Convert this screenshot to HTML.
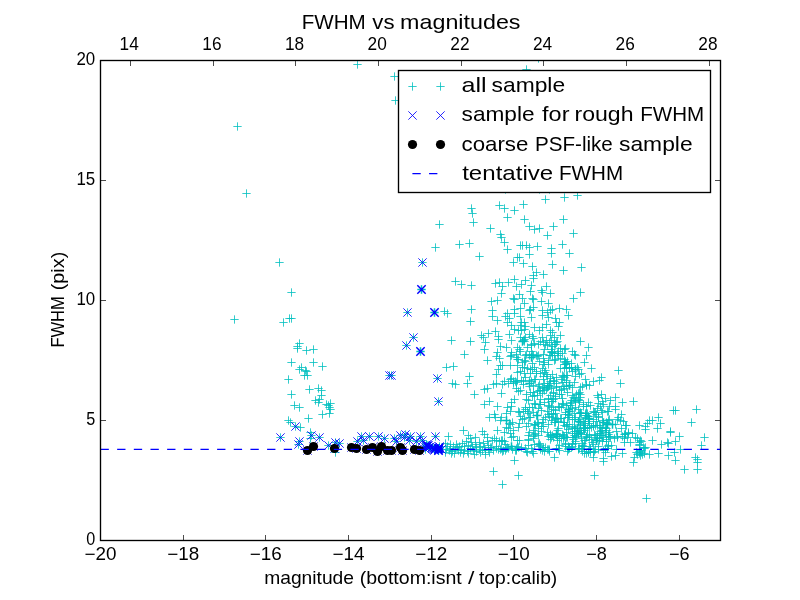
<!DOCTYPE html>
<html><head><meta charset="utf-8"><title>FWHM vs magnitudes</title>
<style>html,body{margin:0;padding:0;background:#fff;}svg{display:block;will-change:transform;}text{font-family:"Liberation Sans",sans-serif;fill:#000;}</style></head><body>
<svg width="800" height="600" viewBox="0 0 800 600">
<rect x="0" y="0" width="800" height="600" fill="#ffffff"/>
<defs>
<path id="p" d="M-4.17 0H4.17M0 -4.17V4.17" stroke="#00bfbf" stroke-width="0.8" fill="none"/>
<path id="x" d="M-4.17 -4.17L4.17 4.17M-4.17 4.17L4.17 -4.17" stroke="#0000ff" stroke-width="0.85" fill="none"/>
<path id="P" d="M-4.17 0H4.17M0 -4.17V4.17" stroke="#00bfbf" stroke-width="1.5" fill="none"/>
<path id="X" d="M-4.17 -4.17L4.17 4.17M-4.17 4.17L4.17 -4.17" stroke="#0000ff" stroke-width="1.45" fill="none"/>
<circle id="o" r="4.6" fill="#000"/>
<clipPath id="clip"><rect x="100" y="60" width="621" height="481"/></clipPath>
</defs>
<g clip-path="url(#clip)">
<g id="plus">
<use href="#p" x="237.5" y="126.5"/>
<use href="#p" x="357.5" y="64.5"/>
<use href="#p" x="246.5" y="193.5"/>
<use href="#p" x="279.5" y="262.5"/>
<use href="#p" x="291.5" y="292.5"/>
<use href="#p" x="234.5" y="319.5"/>
<use href="#p" x="283.5" y="322.5"/>
<use href="#p" x="289.5" y="318.5"/>
<use href="#p" x="291.5" y="318.5"/>
<use href="#p" x="299.5" y="343.5"/>
<use href="#p" x="297.5" y="346.5"/>
<use href="#p" x="297.5" y="348.5"/>
<use href="#p" x="306.5" y="350.5"/>
<use href="#p" x="313.5" y="349.5"/>
<use href="#p" x="291.5" y="362.5"/>
<use href="#p" x="313.5" y="362.5"/>
<use href="#p" x="322.5" y="366.5"/>
<use href="#p" x="299.5" y="369.5"/>
<use href="#p" x="301.5" y="367.5"/>
<use href="#p" x="305.5" y="370.5"/>
<use href="#p" x="306.5" y="371.5"/>
<use href="#p" x="304.5" y="375.5"/>
<use href="#p" x="307.5" y="375.5"/>
<use href="#p" x="288.5" y="379.5"/>
<use href="#p" x="309.5" y="389.5"/>
<use href="#p" x="318.5" y="388.5"/>
<use href="#p" x="321.5" y="390.5"/>
<use href="#p" x="291.5" y="394.5"/>
<use href="#p" x="321.5" y="395.5"/>
<use href="#p" x="319.5" y="399.5"/>
<use href="#p" x="315.5" y="400.5"/>
<use href="#p" x="318.5" y="402.5"/>
<use href="#p" x="294.5" y="405.5"/>
<use href="#p" x="299.5" y="407.5"/>
<use href="#p" x="326.5" y="404.5"/>
<use href="#p" x="328.5" y="405.5"/>
<use href="#p" x="330.5" y="403.5"/>
<use href="#p" x="329.5" y="407.5"/>
<use href="#p" x="330.5" y="409.5"/>
<use href="#p" x="322.5" y="414.5"/>
<use href="#p" x="329.5" y="413.5"/>
<use href="#p" x="308.5" y="418.5"/>
<use href="#p" x="288.5" y="420.5"/>
<use href="#p" x="290.5" y="422.5"/>
<use href="#p" x="300.5" y="427.5"/>
<use href="#p" x="295.5" y="426.5"/>
<use href="#p" x="280.5" y="437.5"/>
<use href="#p" x="299.5" y="441.5"/>
<use href="#p" x="298.5" y="444.5"/>
<use href="#p" x="311.5" y="435.5"/>
<use href="#p" x="319.5" y="437.5"/>
<use href="#p" x="328.5" y="445.5"/>
<use href="#p" x="335.5" y="442.5"/>
<use href="#p" x="339.5" y="443.5"/>
<use href="#p" x="307.5" y="450.5"/>
<use href="#p" x="313.5" y="446.5"/>
<use href="#p" x="334.5" y="448.5"/>
<use href="#p" x="310.5" y="432.5"/>
<use href="#p" x="310.5" y="438.5"/>
<use href="#p" x="335.5" y="452.5"/>
<use href="#p" x="351.5" y="447.5"/>
<use href="#p" x="356.5" y="448.5"/>
<use href="#p" x="366.5" y="449.5"/>
<use href="#p" x="372.5" y="447.5"/>
<use href="#p" x="377.5" y="451.5"/>
<use href="#p" x="381.5" y="446.5"/>
<use href="#p" x="387.5" y="450.5"/>
<use href="#p" x="391.5" y="450.5"/>
<use href="#p" x="400.5" y="447.5"/>
<use href="#p" x="402.5" y="450.5"/>
<use href="#p" x="414.5" y="449.5"/>
<use href="#p" x="419.5" y="450.5"/>
<use href="#p" x="361.5" y="436.5"/>
<use href="#p" x="369.5" y="436.5"/>
<use href="#p" x="378.5" y="436.5"/>
<use href="#p" x="384.5" y="438.5"/>
<use href="#p" x="394.5" y="438.5"/>
<use href="#p" x="400.5" y="435.5"/>
<use href="#p" x="405.5" y="434.5"/>
<use href="#p" x="410.5" y="436.5"/>
<use href="#p" x="357.5" y="441.5"/>
<use href="#p" x="363.5" y="440.5"/>
<use href="#p" x="416.5" y="441.5"/>
<use href="#p" x="404.5" y="437.5"/>
<use href="#p" x="396.5" y="441.5"/>
<use href="#p" x="409.5" y="440.5"/>
<use href="#p" x="420.5" y="436.5"/>
<use href="#p" x="435.5" y="436.5"/>
<use href="#p" x="422.5" y="440.5"/>
<use href="#p" x="426.5" y="444.5"/>
<use href="#p" x="435.5" y="448.5"/>
<use href="#p" x="427.5" y="445.5"/>
<use href="#p" x="439.5" y="447.5"/>
<use href="#p" x="425.5" y="447.5"/>
<use href="#p" x="433.5" y="448.5"/>
<use href="#p" x="430.5" y="446.5"/>
<use href="#p" x="426.5" y="446.5"/>
<use href="#p" x="428.5" y="445.5"/>
<use href="#p" x="428.5" y="447.5"/>
<use href="#p" x="434.5" y="448.5"/>
<use href="#p" x="432.5" y="447.5"/>
<use href="#p" x="439.5" y="448.5"/>
<use href="#p" x="441.5" y="449.5"/>
<use href="#p" x="439.5" y="446.5"/>
<use href="#p" x="426.5" y="445.5"/>
<use href="#p" x="438.5" y="449.5"/>
<use href="#p" x="434.5" y="449.5"/>
<use href="#p" x="434.5" y="450.5"/>
<use href="#p" x="425.5" y="449.5"/>
<use href="#p" x="448.5" y="436.5"/>
<use href="#p" x="463.5" y="430.5"/>
<use href="#p" x="482.5" y="431.5"/>
<use href="#p" x="468.5" y="435.5"/>
<use href="#p" x="475.5" y="437.5"/>
<use href="#p" x="487.5" y="437.5"/>
<use href="#p" x="470.5" y="438.5"/>
<use href="#p" x="484.5" y="434.5"/>
<use href="#p" x="445.5" y="443.5"/>
<use href="#p" x="450.5" y="444.5"/>
<use href="#p" x="453.5" y="446.5"/>
<use href="#p" x="457.5" y="447.5"/>
<use href="#p" x="462.5" y="443.5"/>
<use href="#p" x="466.5" y="441.5"/>
<use href="#p" x="471.5" y="442.5"/>
<use href="#p" x="475.5" y="444.5"/>
<use href="#p" x="479.5" y="442.5"/>
<use href="#p" x="483.5" y="443.5"/>
<use href="#p" x="487.5" y="441.5"/>
<use href="#p" x="446.5" y="449.5"/>
<use href="#p" x="449.5" y="450.5"/>
<use href="#p" x="452.5" y="451.5"/>
<use href="#p" x="455.5" y="449.5"/>
<use href="#p" x="458.5" y="450.5"/>
<use href="#p" x="461.5" y="449.5"/>
<use href="#p" x="464.5" y="450.5"/>
<use href="#p" x="467.5" y="451.5"/>
<use href="#p" x="470.5" y="448.5"/>
<use href="#p" x="473.5" y="450.5"/>
<use href="#p" x="476.5" y="451.5"/>
<use href="#p" x="479.5" y="449.5"/>
<use href="#p" x="482.5" y="450.5"/>
<use href="#p" x="485.5" y="450.5"/>
<use href="#p" x="488.5" y="449.5"/>
<use href="#p" x="445.5" y="452.5"/>
<use href="#p" x="451.5" y="453.5"/>
<use href="#p" x="454.5" y="453.5"/>
<use href="#p" x="460.5" y="452.5"/>
<use href="#p" x="463.5" y="453.5"/>
<use href="#p" x="468.5" y="453.5"/>
<use href="#p" x="474.5" y="454.5"/>
<use href="#p" x="480.5" y="452.5"/>
<use href="#p" x="485.5" y="454.5"/>
<use href="#p" x="489.5" y="452.5"/>
<use href="#p" x="447.5" y="446.5"/>
<use href="#p" x="450.5" y="448.5"/>
<use href="#p" x="456.5" y="444.5"/>
<use href="#p" x="459.5" y="446.5"/>
<use href="#p" x="464.5" y="446.5"/>
<use href="#p" x="468.5" y="445.5"/>
<use href="#p" x="472.5" y="446.5"/>
<use href="#p" x="476.5" y="447.5"/>
<use href="#p" x="480.5" y="446.5"/>
<use href="#p" x="484.5" y="447.5"/>
<use href="#p" x="488.5" y="445.5"/>
<use href="#p" x="471.5" y="208.5"/>
<use href="#p" x="472.5" y="213.5"/>
<use href="#p" x="473.5" y="222.5"/>
<use href="#p" x="439.5" y="224.5"/>
<use href="#p" x="435.5" y="247.5"/>
<use href="#p" x="459.5" y="244.5"/>
<use href="#p" x="469.5" y="243.5"/>
<use href="#p" x="479.5" y="256.5"/>
<use href="#p" x="455.5" y="281.5"/>
<use href="#p" x="461.5" y="284.5"/>
<use href="#p" x="471.5" y="285.5"/>
<use href="#p" x="422.5" y="262.5"/>
<use href="#p" x="407.5" y="312.5"/>
<use href="#p" x="413.5" y="337.5"/>
<use href="#p" x="406.5" y="345.5"/>
<use href="#p" x="444.5" y="311.5"/>
<use href="#p" x="447.5" y="313.5"/>
<use href="#p" x="471.5" y="309.5"/>
<use href="#p" x="470.5" y="321.5"/>
<use href="#p" x="451.5" y="340.5"/>
<use href="#p" x="470.5" y="341.5"/>
<use href="#p" x="481.5" y="335.5"/>
<use href="#p" x="483.5" y="337.5"/>
<use href="#p" x="485.5" y="342.5"/>
<use href="#p" x="488.5" y="333.5"/>
<use href="#p" x="484.5" y="349.5"/>
<use href="#p" x="464.5" y="354.5"/>
<use href="#p" x="487.5" y="360.5"/>
<use href="#p" x="446.5" y="367.5"/>
<use href="#p" x="453.5" y="366.5"/>
<use href="#p" x="389.5" y="375.5"/>
<use href="#p" x="391.5" y="375.5"/>
<use href="#p" x="437.5" y="378.5"/>
<use href="#p" x="438.5" y="401.5"/>
<use href="#p" x="469.5" y="376.5"/>
<use href="#p" x="452.5" y="383.5"/>
<use href="#p" x="455.5" y="384.5"/>
<use href="#p" x="467.5" y="383.5"/>
<use href="#p" x="474.5" y="394.5"/>
<use href="#p" x="484.5" y="389.5"/>
<use href="#p" x="487.5" y="388.5"/>
<use href="#p" x="484.5" y="404.5"/>
<use href="#p" x="489.5" y="401.5"/>
<use href="#p" x="489.5" y="417.5"/>
<use href="#p" x="545.5" y="199.5"/>
<use href="#p" x="499.5" y="205.5"/>
<use href="#p" x="504.5" y="208.5"/>
<use href="#p" x="514.5" y="210.5"/>
<use href="#p" x="523.5" y="204.5"/>
<use href="#p" x="507.5" y="217.5"/>
<use href="#p" x="524.5" y="219.5"/>
<use href="#p" x="490.5" y="228.5"/>
<use href="#p" x="529.5" y="226.5"/>
<use href="#p" x="534.5" y="229.5"/>
<use href="#p" x="539.5" y="228.5"/>
<use href="#p" x="500.5" y="234.5"/>
<use href="#p" x="501.5" y="237.5"/>
<use href="#p" x="504.5" y="242.5"/>
<use href="#p" x="547.5" y="235.5"/>
<use href="#p" x="520.5" y="245.5"/>
<use href="#p" x="522.5" y="245.5"/>
<use href="#p" x="526.5" y="245.5"/>
<use href="#p" x="529.5" y="247.5"/>
<use href="#p" x="537.5" y="246.5"/>
<use href="#p" x="507.5" y="249.5"/>
<use href="#p" x="529.5" y="254.5"/>
<use href="#p" x="517.5" y="257.5"/>
<use href="#p" x="519.5" y="257.5"/>
<use href="#p" x="513.5" y="262.5"/>
<use href="#p" x="523.5" y="263.5"/>
<use href="#p" x="532.5" y="266.5"/>
<use href="#p" x="536.5" y="272.5"/>
<use href="#p" x="543.5" y="274.5"/>
<use href="#p" x="533.5" y="275.5"/>
<use href="#p" x="564.5" y="197.5"/>
<use href="#p" x="577.5" y="195.5"/>
<use href="#p" x="563.5" y="219.5"/>
<use href="#p" x="553.5" y="226.5"/>
<use href="#p" x="573.5" y="233.5"/>
<use href="#p" x="562.5" y="244.5"/>
<use href="#p" x="551.5" y="248.5"/>
<use href="#p" x="551.5" y="253.5"/>
<use href="#p" x="569.5" y="253.5"/>
<use href="#p" x="552.5" y="264.5"/>
<use href="#p" x="563.5" y="270.5"/>
<use href="#p" x="581.5" y="267.5"/>
<use href="#p" x="495.5" y="283.5"/>
<use href="#p" x="499.5" y="282.5"/>
<use href="#p" x="508.5" y="282.5"/>
<use href="#p" x="514.5" y="279.5"/>
<use href="#p" x="525.5" y="280.5"/>
<use href="#p" x="521.5" y="284.5"/>
<use href="#p" x="516.5" y="286.5"/>
<use href="#p" x="531.5" y="285.5"/>
<use href="#p" x="533.5" y="278.5"/>
<use href="#p" x="546.5" y="286.5"/>
<use href="#p" x="502.5" y="286.5"/>
<use href="#p" x="501.5" y="293.5"/>
<use href="#p" x="530.5" y="291.5"/>
<use href="#p" x="519.5" y="294.5"/>
<use href="#p" x="541.5" y="290.5"/>
<use href="#p" x="542.5" y="292.5"/>
<use href="#p" x="550.5" y="293.5"/>
<use href="#p" x="497.5" y="300.5"/>
<use href="#p" x="513.5" y="298.5"/>
<use href="#p" x="514.5" y="299.5"/>
<use href="#p" x="522.5" y="298.5"/>
<use href="#p" x="532.5" y="298.5"/>
<use href="#p" x="533.5" y="299.5"/>
<use href="#p" x="541.5" y="301.5"/>
<use href="#p" x="548.5" y="303.5"/>
<use href="#p" x="491.5" y="301.5"/>
<use href="#p" x="524.5" y="303.5"/>
<use href="#p" x="492.5" y="310.5"/>
<use href="#p" x="514.5" y="309.5"/>
<use href="#p" x="520.5" y="308.5"/>
<use href="#p" x="530.5" y="309.5"/>
<use href="#p" x="533.5" y="307.5"/>
<use href="#p" x="529.5" y="310.5"/>
<use href="#p" x="542.5" y="310.5"/>
<use href="#p" x="550.5" y="310.5"/>
<use href="#p" x="552.5" y="309.5"/>
<use href="#p" x="559.5" y="308.5"/>
<use href="#p" x="566.5" y="309.5"/>
<use href="#p" x="547.5" y="312.5"/>
<use href="#p" x="507.5" y="313.5"/>
<use href="#p" x="514.5" y="313.5"/>
<use href="#p" x="505.5" y="316.5"/>
<use href="#p" x="509.5" y="318.5"/>
<use href="#p" x="492.5" y="316.5"/>
<use href="#p" x="497.5" y="320.5"/>
<use href="#p" x="520.5" y="316.5"/>
<use href="#p" x="531.5" y="317.5"/>
<use href="#p" x="542.5" y="315.5"/>
<use href="#p" x="548.5" y="317.5"/>
<use href="#p" x="555.5" y="318.5"/>
<use href="#p" x="568.5" y="315.5"/>
<use href="#p" x="556.5" y="322.5"/>
<use href="#p" x="559.5" y="322.5"/>
<use href="#p" x="507.5" y="322.5"/>
<use href="#p" x="511.5" y="325.5"/>
<use href="#p" x="521.5" y="322.5"/>
<use href="#p" x="524.5" y="322.5"/>
<use href="#p" x="520.5" y="325.5"/>
<use href="#p" x="525.5" y="326.5"/>
<use href="#p" x="534.5" y="327.5"/>
<use href="#p" x="539.5" y="330.5"/>
<use href="#p" x="542.5" y="327.5"/>
<use href="#p" x="546.5" y="324.5"/>
<use href="#p" x="558.5" y="326.5"/>
<use href="#p" x="550.5" y="330.5"/>
<use href="#p" x="495.5" y="331.5"/>
<use href="#p" x="498.5" y="336.5"/>
<use href="#p" x="509.5" y="334.5"/>
<use href="#p" x="514.5" y="329.5"/>
<use href="#p" x="518.5" y="330.5"/>
<use href="#p" x="521.5" y="330.5"/>
<use href="#p" x="524.5" y="329.5"/>
<use href="#p" x="529.5" y="334.5"/>
<use href="#p" x="520.5" y="337.5"/>
<use href="#p" x="525.5" y="337.5"/>
<use href="#p" x="532.5" y="336.5"/>
<use href="#p" x="552.5" y="332.5"/>
<use href="#p" x="550.5" y="335.5"/>
<use href="#p" x="560.5" y="335.5"/>
<use href="#p" x="542.5" y="337.5"/>
<use href="#p" x="554.5" y="337.5"/>
<use href="#p" x="580.5" y="292.5"/>
<use href="#p" x="573.5" y="298.5"/>
<use href="#p" x="633.5" y="401.5"/>
<use href="#p" x="673.5" y="410.5"/>
<use href="#p" x="675.5" y="410.5"/>
<use href="#p" x="696.5" y="409.5"/>
<use href="#p" x="691.5" y="422.5"/>
<use href="#p" x="658.5" y="417.5"/>
<use href="#p" x="649.5" y="420.5"/>
<use href="#p" x="652.5" y="420.5"/>
<use href="#p" x="647.5" y="423.5"/>
<use href="#p" x="660.5" y="423.5"/>
<use href="#p" x="639.5" y="425.5"/>
<use href="#p" x="645.5" y="426.5"/>
<use href="#p" x="645.5" y="429.5"/>
<use href="#p" x="657.5" y="428.5"/>
<use href="#p" x="670.5" y="431.5"/>
<use href="#p" x="670.5" y="432.5"/>
<use href="#p" x="679.5" y="436.5"/>
<use href="#p" x="704.5" y="437.5"/>
<use href="#p" x="632.5" y="433.5"/>
<use href="#p" x="635.5" y="437.5"/>
<use href="#p" x="514.5" y="460.5"/>
<use href="#p" x="493.5" y="471.5"/>
<use href="#p" x="518.5" y="475.5"/>
<use href="#p" x="502.5" y="484.5"/>
<use href="#p" x="594.5" y="475.5"/>
<use href="#p" x="603.5" y="461.5"/>
<use href="#p" x="554.5" y="457.5"/>
<use href="#p" x="593.5" y="457.5"/>
<use href="#p" x="652.5" y="440.5"/>
<use href="#p" x="675.5" y="441.5"/>
<use href="#p" x="667.5" y="442.5"/>
<use href="#p" x="668.5" y="443.5"/>
<use href="#p" x="661.5" y="444.5"/>
<use href="#p" x="701.5" y="445.5"/>
<use href="#p" x="680.5" y="449.5"/>
<use href="#p" x="645.5" y="447.5"/>
<use href="#p" x="674.5" y="452.5"/>
<use href="#p" x="658.5" y="453.5"/>
<use href="#p" x="649.5" y="454.5"/>
<use href="#p" x="668.5" y="455.5"/>
<use href="#p" x="675.5" y="460.5"/>
<use href="#p" x="633.5" y="462.5"/>
<use href="#p" x="695.5" y="457.5"/>
<use href="#p" x="697.5" y="459.5"/>
<use href="#p" x="697.5" y="462.5"/>
<use href="#p" x="697.5" y="469.5"/>
<use href="#p" x="684.5" y="469.5"/>
<use href="#p" x="646.5" y="498.5"/>
<use href="#p" x="636.5" y="452.5"/>
<use href="#p" x="639.5" y="453.5"/>
<use href="#p" x="642.5" y="454.5"/>
<use href="#p" x="640.5" y="450.5"/>
<use href="#p" x="640.5" y="440.5"/>
<use href="#p" x="637.5" y="438.5"/>
<use href="#p" x="506.5" y="347.5"/>
<use href="#p" x="498.5" y="339.5"/>
<use href="#p" x="496.5" y="356.5"/>
<use href="#p" x="500.5" y="346.5"/>
<use href="#p" x="497.5" y="352.5"/>
<use href="#p" x="524.5" y="341.5"/>
<use href="#p" x="526.5" y="354.5"/>
<use href="#p" x="516.5" y="357.5"/>
<use href="#p" x="511.5" y="355.5"/>
<use href="#p" x="525.5" y="355.5"/>
<use href="#p" x="520.5" y="351.5"/>
<use href="#p" x="511.5" y="340.5"/>
<use href="#p" x="516.5" y="354.5"/>
<use href="#p" x="517.5" y="347.5"/>
<use href="#p" x="524.5" y="339.5"/>
<use href="#p" x="519.5" y="349.5"/>
<use href="#p" x="523.5" y="340.5"/>
<use href="#p" x="529.5" y="355.5"/>
<use href="#p" x="527.5" y="347.5"/>
<use href="#p" x="510.5" y="356.5"/>
<use href="#p" x="511.5" y="352.5"/>
<use href="#p" x="533.5" y="338.5"/>
<use href="#p" x="543.5" y="354.5"/>
<use href="#p" x="538.5" y="355.5"/>
<use href="#p" x="531.5" y="351.5"/>
<use href="#p" x="531.5" y="345.5"/>
<use href="#p" x="545.5" y="344.5"/>
<use href="#p" x="536.5" y="355.5"/>
<use href="#p" x="549.5" y="342.5"/>
<use href="#p" x="543.5" y="342.5"/>
<use href="#p" x="544.5" y="349.5"/>
<use href="#p" x="533.5" y="355.5"/>
<use href="#p" x="549.5" y="355.5"/>
<use href="#p" x="531.5" y="344.5"/>
<use href="#p" x="540.5" y="341.5"/>
<use href="#p" x="534.5" y="343.5"/>
<use href="#p" x="532.5" y="354.5"/>
<use href="#p" x="538.5" y="344.5"/>
<use href="#p" x="546.5" y="340.5"/>
<use href="#p" x="537.5" y="356.5"/>
<use href="#p" x="547.5" y="345.5"/>
<use href="#p" x="552.5" y="352.5"/>
<use href="#p" x="554.5" y="344.5"/>
<use href="#p" x="557.5" y="341.5"/>
<use href="#p" x="551.5" y="351.5"/>
<use href="#p" x="551.5" y="340.5"/>
<use href="#p" x="550.5" y="355.5"/>
<use href="#p" x="562.5" y="353.5"/>
<use href="#p" x="557.5" y="353.5"/>
<use href="#p" x="554.5" y="353.5"/>
<use href="#p" x="560.5" y="348.5"/>
<use href="#p" x="552.5" y="346.5"/>
<use href="#p" x="564.5" y="349.5"/>
<use href="#p" x="558.5" y="355.5"/>
<use href="#p" x="565.5" y="348.5"/>
<use href="#p" x="551.5" y="352.5"/>
<use href="#p" x="552.5" y="355.5"/>
<use href="#p" x="558.5" y="351.5"/>
<use href="#p" x="555.5" y="344.5"/>
<use href="#p" x="556.5" y="342.5"/>
<use href="#p" x="551.5" y="349.5"/>
<use href="#p" x="575.5" y="355.5"/>
<use href="#p" x="574.5" y="354.5"/>
<use href="#p" x="586.5" y="355.5"/>
<use href="#p" x="572.5" y="351.5"/>
<use href="#p" x="499.5" y="358.5"/>
<use href="#p" x="502.5" y="365.5"/>
<use href="#p" x="496.5" y="374.5"/>
<use href="#p" x="500.5" y="365.5"/>
<use href="#p" x="498.5" y="369.5"/>
<use href="#p" x="527.5" y="368.5"/>
<use href="#p" x="517.5" y="365.5"/>
<use href="#p" x="525.5" y="377.5"/>
<use href="#p" x="517.5" y="359.5"/>
<use href="#p" x="524.5" y="367.5"/>
<use href="#p" x="522.5" y="362.5"/>
<use href="#p" x="522.5" y="367.5"/>
<use href="#p" x="524.5" y="373.5"/>
<use href="#p" x="525.5" y="361.5"/>
<use href="#p" x="517.5" y="372.5"/>
<use href="#p" x="524.5" y="360.5"/>
<use href="#p" x="520.5" y="371.5"/>
<use href="#p" x="518.5" y="359.5"/>
<use href="#p" x="510.5" y="365.5"/>
<use href="#p" x="543.5" y="376.5"/>
<use href="#p" x="542.5" y="368.5"/>
<use href="#p" x="543.5" y="358.5"/>
<use href="#p" x="546.5" y="374.5"/>
<use href="#p" x="532.5" y="363.5"/>
<use href="#p" x="548.5" y="364.5"/>
<use href="#p" x="536.5" y="373.5"/>
<use href="#p" x="543.5" y="364.5"/>
<use href="#p" x="534.5" y="367.5"/>
<use href="#p" x="530.5" y="369.5"/>
<use href="#p" x="539.5" y="361.5"/>
<use href="#p" x="530.5" y="373.5"/>
<use href="#p" x="548.5" y="360.5"/>
<use href="#p" x="544.5" y="372.5"/>
<use href="#p" x="545.5" y="370.5"/>
<use href="#p" x="547.5" y="376.5"/>
<use href="#p" x="536.5" y="371.5"/>
<use href="#p" x="544.5" y="362.5"/>
<use href="#p" x="540.5" y="373.5"/>
<use href="#p" x="532.5" y="369.5"/>
<use href="#p" x="554.5" y="360.5"/>
<use href="#p" x="566.5" y="375.5"/>
<use href="#p" x="564.5" y="364.5"/>
<use href="#p" x="566.5" y="367.5"/>
<use href="#p" x="560.5" y="358.5"/>
<use href="#p" x="567.5" y="375.5"/>
<use href="#p" x="569.5" y="367.5"/>
<use href="#p" x="565.5" y="361.5"/>
<use href="#p" x="566.5" y="363.5"/>
<use href="#p" x="569.5" y="368.5"/>
<use href="#p" x="556.5" y="377.5"/>
<use href="#p" x="552.5" y="374.5"/>
<use href="#p" x="564.5" y="368.5"/>
<use href="#p" x="564.5" y="377.5"/>
<use href="#p" x="565.5" y="362.5"/>
<use href="#p" x="565.5" y="364.5"/>
<use href="#p" x="560.5" y="368.5"/>
<use href="#p" x="567.5" y="361.5"/>
<use href="#p" x="563.5" y="376.5"/>
<use href="#p" x="564.5" y="359.5"/>
<use href="#p" x="555.5" y="359.5"/>
<use href="#p" x="562.5" y="375.5"/>
<use href="#p" x="571.5" y="367.5"/>
<use href="#p" x="581.5" y="373.5"/>
<use href="#p" x="575.5" y="376.5"/>
<use href="#p" x="578.5" y="369.5"/>
<use href="#p" x="579.5" y="374.5"/>
<use href="#p" x="572.5" y="371.5"/>
<use href="#p" x="577.5" y="367.5"/>
<use href="#p" x="591.5" y="368.5"/>
<use href="#p" x="501.5" y="393.5"/>
<use href="#p" x="493.5" y="384.5"/>
<use href="#p" x="496.5" y="383.5"/>
<use href="#p" x="508.5" y="383.5"/>
<use href="#p" x="502.5" y="384.5"/>
<use href="#p" x="504.5" y="381.5"/>
<use href="#p" x="516.5" y="382.5"/>
<use href="#p" x="523.5" y="381.5"/>
<use href="#p" x="511.5" y="378.5"/>
<use href="#p" x="513.5" y="381.5"/>
<use href="#p" x="520.5" y="390.5"/>
<use href="#p" x="523.5" y="384.5"/>
<use href="#p" x="515.5" y="381.5"/>
<use href="#p" x="517.5" y="380.5"/>
<use href="#p" x="529.5" y="380.5"/>
<use href="#p" x="516.5" y="388.5"/>
<use href="#p" x="521.5" y="380.5"/>
<use href="#p" x="526.5" y="394.5"/>
<use href="#p" x="513.5" y="383.5"/>
<use href="#p" x="529.5" y="386.5"/>
<use href="#p" x="518.5" y="391.5"/>
<use href="#p" x="510.5" y="379.5"/>
<use href="#p" x="535.5" y="379.5"/>
<use href="#p" x="538.5" y="386.5"/>
<use href="#p" x="542.5" y="393.5"/>
<use href="#p" x="533.5" y="385.5"/>
<use href="#p" x="544.5" y="383.5"/>
<use href="#p" x="544.5" y="390.5"/>
<use href="#p" x="533.5" y="392.5"/>
<use href="#p" x="548.5" y="386.5"/>
<use href="#p" x="537.5" y="395.5"/>
<use href="#p" x="543.5" y="379.5"/>
<use href="#p" x="539.5" y="390.5"/>
<use href="#p" x="532.5" y="396.5"/>
<use href="#p" x="547.5" y="387.5"/>
<use href="#p" x="530.5" y="392.5"/>
<use href="#p" x="543.5" y="388.5"/>
<use href="#p" x="549.5" y="383.5"/>
<use href="#p" x="534.5" y="379.5"/>
<use href="#p" x="547.5" y="385.5"/>
<use href="#p" x="546.5" y="389.5"/>
<use href="#p" x="537.5" y="391.5"/>
<use href="#p" x="539.5" y="384.5"/>
<use href="#p" x="531.5" y="381.5"/>
<use href="#p" x="549.5" y="385.5"/>
<use href="#p" x="534.5" y="395.5"/>
<use href="#p" x="542.5" y="387.5"/>
<use href="#p" x="540.5" y="390.5"/>
<use href="#p" x="556.5" y="383.5"/>
<use href="#p" x="556.5" y="386.5"/>
<use href="#p" x="564.5" y="388.5"/>
<use href="#p" x="566.5" y="386.5"/>
<use href="#p" x="566.5" y="382.5"/>
<use href="#p" x="566.5" y="380.5"/>
<use href="#p" x="567.5" y="392.5"/>
<use href="#p" x="559.5" y="394.5"/>
<use href="#p" x="550.5" y="381.5"/>
<use href="#p" x="553.5" y="380.5"/>
<use href="#p" x="561.5" y="389.5"/>
<use href="#p" x="551.5" y="388.5"/>
<use href="#p" x="553.5" y="392.5"/>
<use href="#p" x="553.5" y="393.5"/>
<use href="#p" x="561.5" y="394.5"/>
<use href="#p" x="554.5" y="381.5"/>
<use href="#p" x="563.5" y="386.5"/>
<use href="#p" x="550.5" y="378.5"/>
<use href="#p" x="555.5" y="396.5"/>
<use href="#p" x="562.5" y="382.5"/>
<use href="#p" x="550.5" y="395.5"/>
<use href="#p" x="559.5" y="390.5"/>
<use href="#p" x="561.5" y="379.5"/>
<use href="#p" x="556.5" y="387.5"/>
<use href="#p" x="582.5" y="386.5"/>
<use href="#p" x="579.5" y="392.5"/>
<use href="#p" x="572.5" y="395.5"/>
<use href="#p" x="572.5" y="387.5"/>
<use href="#p" x="580.5" y="387.5"/>
<use href="#p" x="576.5" y="394.5"/>
<use href="#p" x="574.5" y="382.5"/>
<use href="#p" x="578.5" y="393.5"/>
<use href="#p" x="586.5" y="384.5"/>
<use href="#p" x="586.5" y="385.5"/>
<use href="#p" x="573.5" y="397.5"/>
<use href="#p" x="580.5" y="394.5"/>
<use href="#p" x="585.5" y="379.5"/>
<use href="#p" x="580.5" y="397.5"/>
<use href="#p" x="589.5" y="385.5"/>
<use href="#p" x="598.5" y="397.5"/>
<use href="#p" x="597.5" y="395.5"/>
<use href="#p" x="601.5" y="394.5"/>
<use href="#p" x="593.5" y="381.5"/>
<use href="#p" x="507.5" y="407.5"/>
<use href="#p" x="495.5" y="417.5"/>
<use href="#p" x="497.5" y="406.5"/>
<use href="#p" x="506.5" y="413.5"/>
<use href="#p" x="501.5" y="417.5"/>
<use href="#p" x="494.5" y="414.5"/>
<use href="#p" x="523.5" y="411.5"/>
<use href="#p" x="529.5" y="417.5"/>
<use href="#p" x="518.5" y="411.5"/>
<use href="#p" x="529.5" y="407.5"/>
<use href="#p" x="511.5" y="406.5"/>
<use href="#p" x="519.5" y="412.5"/>
<use href="#p" x="510.5" y="411.5"/>
<use href="#p" x="511.5" y="402.5"/>
<use href="#p" x="527.5" y="411.5"/>
<use href="#p" x="514.5" y="399.5"/>
<use href="#p" x="526.5" y="399.5"/>
<use href="#p" x="520.5" y="416.5"/>
<use href="#p" x="525.5" y="409.5"/>
<use href="#p" x="528.5" y="400.5"/>
<use href="#p" x="525.5" y="407.5"/>
<use href="#p" x="528.5" y="413.5"/>
<use href="#p" x="548.5" y="405.5"/>
<use href="#p" x="549.5" y="406.5"/>
<use href="#p" x="548.5" y="399.5"/>
<use href="#p" x="533.5" y="412.5"/>
<use href="#p" x="539.5" y="404.5"/>
<use href="#p" x="540.5" y="399.5"/>
<use href="#p" x="547.5" y="411.5"/>
<use href="#p" x="545.5" y="417.5"/>
<use href="#p" x="541.5" y="410.5"/>
<use href="#p" x="535.5" y="404.5"/>
<use href="#p" x="536.5" y="415.5"/>
<use href="#p" x="530.5" y="417.5"/>
<use href="#p" x="548.5" y="398.5"/>
<use href="#p" x="532.5" y="407.5"/>
<use href="#p" x="534.5" y="403.5"/>
<use href="#p" x="538.5" y="408.5"/>
<use href="#p" x="548.5" y="414.5"/>
<use href="#p" x="544.5" y="402.5"/>
<use href="#p" x="540.5" y="404.5"/>
<use href="#p" x="549.5" y="416.5"/>
<use href="#p" x="565.5" y="412.5"/>
<use href="#p" x="565.5" y="414.5"/>
<use href="#p" x="553.5" y="399.5"/>
<use href="#p" x="569.5" y="415.5"/>
<use href="#p" x="567.5" y="417.5"/>
<use href="#p" x="559.5" y="407.5"/>
<use href="#p" x="551.5" y="413.5"/>
<use href="#p" x="558.5" y="406.5"/>
<use href="#p" x="561.5" y="407.5"/>
<use href="#p" x="553.5" y="414.5"/>
<use href="#p" x="563.5" y="404.5"/>
<use href="#p" x="553.5" y="409.5"/>
<use href="#p" x="566.5" y="405.5"/>
<use href="#p" x="562.5" y="398.5"/>
<use href="#p" x="551.5" y="401.5"/>
<use href="#p" x="568.5" y="414.5"/>
<use href="#p" x="552.5" y="401.5"/>
<use href="#p" x="555.5" y="410.5"/>
<use href="#p" x="568.5" y="417.5"/>
<use href="#p" x="555.5" y="413.5"/>
<use href="#p" x="555.5" y="398.5"/>
<use href="#p" x="552.5" y="417.5"/>
<use href="#p" x="551.5" y="407.5"/>
<use href="#p" x="562.5" y="403.5"/>
<use href="#p" x="586.5" y="413.5"/>
<use href="#p" x="585.5" y="413.5"/>
<use href="#p" x="583.5" y="404.5"/>
<use href="#p" x="583.5" y="406.5"/>
<use href="#p" x="574.5" y="398.5"/>
<use href="#p" x="580.5" y="412.5"/>
<use href="#p" x="580.5" y="413.5"/>
<use href="#p" x="579.5" y="413.5"/>
<use href="#p" x="587.5" y="413.5"/>
<use href="#p" x="585.5" y="417.5"/>
<use href="#p" x="571.5" y="400.5"/>
<use href="#p" x="578.5" y="399.5"/>
<use href="#p" x="579.5" y="402.5"/>
<use href="#p" x="586.5" y="415.5"/>
<use href="#p" x="575.5" y="400.5"/>
<use href="#p" x="570.5" y="403.5"/>
<use href="#p" x="575.5" y="401.5"/>
<use href="#p" x="574.5" y="413.5"/>
<use href="#p" x="579.5" y="400.5"/>
<use href="#p" x="575.5" y="417.5"/>
<use href="#p" x="585.5" y="415.5"/>
<use href="#p" x="586.5" y="406.5"/>
<use href="#p" x="570.5" y="405.5"/>
<use href="#p" x="578.5" y="409.5"/>
<use href="#p" x="588.5" y="402.5"/>
<use href="#p" x="572.5" y="408.5"/>
<use href="#p" x="571.5" y="402.5"/>
<use href="#p" x="575.5" y="407.5"/>
<use href="#p" x="581.5" y="413.5"/>
<use href="#p" x="601.5" y="410.5"/>
<use href="#p" x="590.5" y="405.5"/>
<use href="#p" x="594.5" y="412.5"/>
<use href="#p" x="593.5" y="411.5"/>
<use href="#p" x="602.5" y="401.5"/>
<use href="#p" x="609.5" y="406.5"/>
<use href="#p" x="596.5" y="414.5"/>
<use href="#p" x="598.5" y="416.5"/>
<use href="#p" x="600.5" y="406.5"/>
<use href="#p" x="597.5" y="408.5"/>
<use href="#p" x="595.5" y="412.5"/>
<use href="#p" x="608.5" y="411.5"/>
<use href="#p" x="598.5" y="417.5"/>
<use href="#p" x="598.5" y="403.5"/>
<use href="#p" x="603.5" y="404.5"/>
<use href="#p" x="607.5" y="411.5"/>
<use href="#p" x="602.5" y="412.5"/>
<use href="#p" x="615.5" y="409.5"/>
<use href="#p" x="615.5" y="406.5"/>
<use href="#p" x="621.5" y="414.5"/>
<use href="#p" x="618.5" y="417.5"/>
<use href="#p" x="509.5" y="423.5"/>
<use href="#p" x="504.5" y="432.5"/>
<use href="#p" x="497.5" y="430.5"/>
<use href="#p" x="506.5" y="427.5"/>
<use href="#p" x="508.5" y="428.5"/>
<use href="#p" x="500.5" y="420.5"/>
<use href="#p" x="512.5" y="422.5"/>
<use href="#p" x="510.5" y="424.5"/>
<use href="#p" x="513.5" y="430.5"/>
<use href="#p" x="510.5" y="433.5"/>
<use href="#p" x="529.5" y="432.5"/>
<use href="#p" x="511.5" y="437.5"/>
<use href="#p" x="526.5" y="426.5"/>
<use href="#p" x="522.5" y="419.5"/>
<use href="#p" x="528.5" y="423.5"/>
<use href="#p" x="519.5" y="423.5"/>
<use href="#p" x="513.5" y="436.5"/>
<use href="#p" x="528.5" y="435.5"/>
<use href="#p" x="518.5" y="427.5"/>
<use href="#p" x="524.5" y="418.5"/>
<use href="#p" x="533.5" y="430.5"/>
<use href="#p" x="543.5" y="426.5"/>
<use href="#p" x="535.5" y="424.5"/>
<use href="#p" x="543.5" y="419.5"/>
<use href="#p" x="534.5" y="424.5"/>
<use href="#p" x="548.5" y="436.5"/>
<use href="#p" x="541.5" y="426.5"/>
<use href="#p" x="538.5" y="435.5"/>
<use href="#p" x="538.5" y="423.5"/>
<use href="#p" x="538.5" y="428.5"/>
<use href="#p" x="535.5" y="433.5"/>
<use href="#p" x="547.5" y="432.5"/>
<use href="#p" x="541.5" y="431.5"/>
<use href="#p" x="542.5" y="422.5"/>
<use href="#p" x="534.5" y="425.5"/>
<use href="#p" x="537.5" y="422.5"/>
<use href="#p" x="548.5" y="424.5"/>
<use href="#p" x="534.5" y="434.5"/>
<use href="#p" x="533.5" y="436.5"/>
<use href="#p" x="563.5" y="422.5"/>
<use href="#p" x="555.5" y="419.5"/>
<use href="#p" x="564.5" y="436.5"/>
<use href="#p" x="563.5" y="435.5"/>
<use href="#p" x="564.5" y="425.5"/>
<use href="#p" x="560.5" y="418.5"/>
<use href="#p" x="551.5" y="420.5"/>
<use href="#p" x="558.5" y="428.5"/>
<use href="#p" x="567.5" y="424.5"/>
<use href="#p" x="569.5" y="424.5"/>
<use href="#p" x="555.5" y="422.5"/>
<use href="#p" x="556.5" y="418.5"/>
<use href="#p" x="566.5" y="432.5"/>
<use href="#p" x="562.5" y="434.5"/>
<use href="#p" x="550.5" y="435.5"/>
<use href="#p" x="556.5" y="433.5"/>
<use href="#p" x="557.5" y="430.5"/>
<use href="#p" x="568.5" y="429.5"/>
<use href="#p" x="554.5" y="422.5"/>
<use href="#p" x="558.5" y="421.5"/>
<use href="#p" x="557.5" y="418.5"/>
<use href="#p" x="552.5" y="435.5"/>
<use href="#p" x="566.5" y="426.5"/>
<use href="#p" x="564.5" y="422.5"/>
<use href="#p" x="561.5" y="418.5"/>
<use href="#p" x="550.5" y="434.5"/>
<use href="#p" x="587.5" y="434.5"/>
<use href="#p" x="584.5" y="423.5"/>
<use href="#p" x="587.5" y="428.5"/>
<use href="#p" x="585.5" y="428.5"/>
<use href="#p" x="583.5" y="428.5"/>
<use href="#p" x="576.5" y="433.5"/>
<use href="#p" x="580.5" y="424.5"/>
<use href="#p" x="574.5" y="426.5"/>
<use href="#p" x="572.5" y="419.5"/>
<use href="#p" x="583.5" y="427.5"/>
<use href="#p" x="574.5" y="419.5"/>
<use href="#p" x="572.5" y="433.5"/>
<use href="#p" x="580.5" y="422.5"/>
<use href="#p" x="577.5" y="431.5"/>
<use href="#p" x="584.5" y="430.5"/>
<use href="#p" x="575.5" y="428.5"/>
<use href="#p" x="583.5" y="421.5"/>
<use href="#p" x="589.5" y="419.5"/>
<use href="#p" x="586.5" y="437.5"/>
<use href="#p" x="589.5" y="437.5"/>
<use href="#p" x="586.5" y="436.5"/>
<use href="#p" x="576.5" y="436.5"/>
<use href="#p" x="577.5" y="428.5"/>
<use href="#p" x="589.5" y="418.5"/>
<use href="#p" x="584.5" y="428.5"/>
<use href="#p" x="580.5" y="433.5"/>
<use href="#p" x="589.5" y="423.5"/>
<use href="#p" x="585.5" y="425.5"/>
<use href="#p" x="574.5" y="435.5"/>
<use href="#p" x="572.5" y="428.5"/>
<use href="#p" x="581.5" y="434.5"/>
<use href="#p" x="579.5" y="419.5"/>
<use href="#p" x="589.5" y="435.5"/>
<use href="#p" x="588.5" y="421.5"/>
<use href="#p" x="574.5" y="431.5"/>
<use href="#p" x="579.5" y="430.5"/>
<use href="#p" x="588.5" y="418.5"/>
<use href="#p" x="589.5" y="427.5"/>
<use href="#p" x="585.5" y="418.5"/>
<use href="#p" x="581.5" y="432.5"/>
<use href="#p" x="580.5" y="425.5"/>
<use href="#p" x="572.5" y="437.5"/>
<use href="#p" x="574.5" y="427.5"/>
<use href="#p" x="593.5" y="419.5"/>
<use href="#p" x="609.5" y="432.5"/>
<use href="#p" x="608.5" y="436.5"/>
<use href="#p" x="602.5" y="420.5"/>
<use href="#p" x="593.5" y="425.5"/>
<use href="#p" x="608.5" y="434.5"/>
<use href="#p" x="600.5" y="431.5"/>
<use href="#p" x="608.5" y="420.5"/>
<use href="#p" x="599.5" y="425.5"/>
<use href="#p" x="602.5" y="428.5"/>
<use href="#p" x="605.5" y="427.5"/>
<use href="#p" x="597.5" y="435.5"/>
<use href="#p" x="607.5" y="423.5"/>
<use href="#p" x="595.5" y="425.5"/>
<use href="#p" x="601.5" y="430.5"/>
<use href="#p" x="606.5" y="428.5"/>
<use href="#p" x="606.5" y="422.5"/>
<use href="#p" x="600.5" y="433.5"/>
<use href="#p" x="596.5" y="421.5"/>
<use href="#p" x="602.5" y="435.5"/>
<use href="#p" x="609.5" y="419.5"/>
<use href="#p" x="606.5" y="430.5"/>
<use href="#p" x="600.5" y="427.5"/>
<use href="#p" x="599.5" y="433.5"/>
<use href="#p" x="597.5" y="425.5"/>
<use href="#p" x="609.5" y="436.5"/>
<use href="#p" x="603.5" y="437.5"/>
<use href="#p" x="605.5" y="432.5"/>
<use href="#p" x="601.5" y="435.5"/>
<use href="#p" x="594.5" y="434.5"/>
<use href="#p" x="591.5" y="427.5"/>
<use href="#p" x="593.5" y="426.5"/>
<use href="#p" x="595.5" y="435.5"/>
<use href="#p" x="621.5" y="428.5"/>
<use href="#p" x="617.5" y="419.5"/>
<use href="#p" x="625.5" y="425.5"/>
<use href="#p" x="628.5" y="432.5"/>
<use href="#p" x="626.5" y="425.5"/>
<use href="#p" x="615.5" y="424.5"/>
<use href="#p" x="617.5" y="436.5"/>
<use href="#p" x="620.5" y="420.5"/>
<use href="#p" x="625.5" y="434.5"/>
<use href="#p" x="625.5" y="433.5"/>
<use href="#p" x="617.5" y="437.5"/>
<use href="#p" x="616.5" y="431.5"/>
<use href="#p" x="622.5" y="436.5"/>
<use href="#p" x="627.5" y="437.5"/>
<use href="#p" x="623.5" y="421.5"/>
<use href="#p" x="628.5" y="433.5"/>
<use href="#p" x="624.5" y="434.5"/>
<use href="#p" x="580.5" y="341.5"/>
<use href="#p" x="588.5" y="347.5"/>
<use href="#p" x="584.5" y="362.5"/>
<use href="#p" x="601.5" y="377.5"/>
<use href="#p" x="618.5" y="370.5"/>
<use href="#p" x="620.5" y="383.5"/>
<use href="#p" x="615.5" y="397.5"/>
<use href="#p" x="571.5" y="363.5"/>
<use href="#p" x="599.5" y="380.5"/>
<use href="#p" x="610.5" y="400.5"/>
<use href="#p" x="622.5" y="402.5"/>
<use href="#p" x="605.5" y="398.5"/>
<use href="#p" x="501.5" y="440.5"/>
<use href="#p" x="496.5" y="448.5"/>
<use href="#p" x="500.5" y="449.5"/>
<use href="#p" x="490.5" y="447.5"/>
<use href="#p" x="502.5" y="440.5"/>
<use href="#p" x="501.5" y="448.5"/>
<use href="#p" x="504.5" y="441.5"/>
<use href="#p" x="496.5" y="440.5"/>
<use href="#p" x="499.5" y="441.5"/>
<use href="#p" x="505.5" y="444.5"/>
<use href="#p" x="508.5" y="448.5"/>
<use href="#p" x="505.5" y="450.5"/>
<use href="#p" x="507.5" y="447.5"/>
<use href="#p" x="493.5" y="450.5"/>
<use href="#p" x="496.5" y="446.5"/>
<use href="#p" x="502.5" y="451.5"/>
<use href="#p" x="506.5" y="448.5"/>
<use href="#p" x="492.5" y="440.5"/>
<use href="#p" x="491.5" y="447.5"/>
<use href="#p" x="494.5" y="438.5"/>
<use href="#p" x="503.5" y="450.5"/>
<use href="#p" x="498.5" y="449.5"/>
<use href="#p" x="539.5" y="446.5"/>
<use href="#p" x="538.5" y="444.5"/>
<use href="#p" x="512.5" y="449.5"/>
<use href="#p" x="539.5" y="443.5"/>
<use href="#p" x="549.5" y="451.5"/>
<use href="#p" x="527.5" y="452.5"/>
<use href="#p" x="519.5" y="440.5"/>
<use href="#p" x="553.5" y="437.5"/>
<use href="#p" x="540.5" y="449.5"/>
<use href="#p" x="528.5" y="445.5"/>
<use href="#p" x="515.5" y="450.5"/>
<use href="#p" x="531.5" y="448.5"/>
<use href="#p" x="543.5" y="447.5"/>
<use href="#p" x="551.5" y="437.5"/>
<use href="#p" x="532.5" y="451.5"/>
<use href="#p" x="518.5" y="447.5"/>
<use href="#p" x="521.5" y="447.5"/>
<use href="#p" x="542.5" y="450.5"/>
<use href="#p" x="516.5" y="450.5"/>
<use href="#p" x="525.5" y="448.5"/>
<use href="#p" x="544.5" y="451.5"/>
<use href="#p" x="528.5" y="439.5"/>
<use href="#p" x="533.5" y="438.5"/>
<use href="#p" x="548.5" y="449.5"/>
<use href="#p" x="533.5" y="453.5"/>
<use href="#p" x="545.5" y="447.5"/>
<use href="#p" x="517.5" y="446.5"/>
<use href="#p" x="526.5" y="451.5"/>
<use href="#p" x="534.5" y="444.5"/>
<use href="#p" x="549.5" y="449.5"/>
<use href="#p" x="517.5" y="440.5"/>
<use href="#p" x="550.5" y="439.5"/>
<use href="#p" x="516.5" y="448.5"/>
<use href="#p" x="528.5" y="440.5"/>
<use href="#p" x="547.5" y="449.5"/>
<use href="#p" x="540.5" y="445.5"/>
<use href="#p" x="578.5" y="448.5"/>
<use href="#p" x="557.5" y="440.5"/>
<use href="#p" x="563.5" y="438.5"/>
<use href="#p" x="578.5" y="449.5"/>
<use href="#p" x="572.5" y="443.5"/>
<use href="#p" x="565.5" y="443.5"/>
<use href="#p" x="561.5" y="438.5"/>
<use href="#p" x="558.5" y="448.5"/>
<use href="#p" x="565.5" y="444.5"/>
<use href="#p" x="575.5" y="437.5"/>
<use href="#p" x="566.5" y="437.5"/>
<use href="#p" x="575.5" y="443.5"/>
<use href="#p" x="565.5" y="446.5"/>
<use href="#p" x="579.5" y="448.5"/>
<use href="#p" x="568.5" y="448.5"/>
<use href="#p" x="559.5" y="450.5"/>
<use href="#p" x="573.5" y="439.5"/>
<use href="#p" x="559.5" y="438.5"/>
<use href="#p" x="556.5" y="448.5"/>
<use href="#p" x="572.5" y="446.5"/>
<use href="#p" x="569.5" y="448.5"/>
<use href="#p" x="567.5" y="451.5"/>
<use href="#p" x="569.5" y="447.5"/>
<use href="#p" x="571.5" y="447.5"/>
<use href="#p" x="568.5" y="446.5"/>
<use href="#p" x="572.5" y="444.5"/>
<use href="#p" x="575.5" y="441.5"/>
<use href="#p" x="568.5" y="449.5"/>
<use href="#p" x="567.5" y="437.5"/>
<use href="#p" x="559.5" y="445.5"/>
<use href="#p" x="599.5" y="440.5"/>
<use href="#p" x="603.5" y="450.5"/>
<use href="#p" x="582.5" y="445.5"/>
<use href="#p" x="586.5" y="453.5"/>
<use href="#p" x="591.5" y="439.5"/>
<use href="#p" x="581.5" y="448.5"/>
<use href="#p" x="582.5" y="451.5"/>
<use href="#p" x="592.5" y="442.5"/>
<use href="#p" x="611.5" y="445.5"/>
<use href="#p" x="605.5" y="452.5"/>
<use href="#p" x="590.5" y="448.5"/>
<use href="#p" x="606.5" y="439.5"/>
<use href="#p" x="594.5" y="451.5"/>
<use href="#p" x="590.5" y="449.5"/>
<use href="#p" x="588.5" y="452.5"/>
<use href="#p" x="608.5" y="446.5"/>
<use href="#p" x="605.5" y="448.5"/>
<use href="#p" x="593.5" y="452.5"/>
<use href="#p" x="581.5" y="438.5"/>
<use href="#p" x="584.5" y="453.5"/>
<use href="#p" x="595.5" y="449.5"/>
<use href="#p" x="584.5" y="440.5"/>
<use href="#p" x="589.5" y="446.5"/>
<use href="#p" x="588.5" y="451.5"/>
<use href="#p" x="599.5" y="438.5"/>
<use href="#p" x="583.5" y="446.5"/>
<use href="#p" x="607.5" y="448.5"/>
<use href="#p" x="593.5" y="444.5"/>
<use href="#p" x="598.5" y="446.5"/>
<use href="#p" x="584.5" y="446.5"/>
<use href="#p" x="610.5" y="437.5"/>
<use href="#p" x="606.5" y="441.5"/>
<use href="#p" x="585.5" y="440.5"/>
<use href="#p" x="602.5" y="441.5"/>
<use href="#p" x="597.5" y="437.5"/>
<use href="#p" x="597.5" y="438.5"/>
<use href="#p" x="608.5" y="445.5"/>
<use href="#p" x="590.5" y="452.5"/>
<use href="#p" x="598.5" y="449.5"/>
<use href="#p" x="582.5" y="443.5"/>
<use href="#p" x="639.5" y="442.5"/>
<use href="#p" x="639.5" y="444.5"/>
<use href="#p" x="630.5" y="442.5"/>
<use href="#p" x="624.5" y="438.5"/>
<use href="#p" x="622.5" y="453.5"/>
<use href="#p" x="641.5" y="452.5"/>
<use href="#p" x="639.5" y="445.5"/>
<use href="#p" x="641.5" y="441.5"/>
<use href="#p" x="639.5" y="451.5"/>
<use href="#p" x="624.5" y="442.5"/>
<use href="#p" x="616.5" y="449.5"/>
<use href="#p" x="614.5" y="438.5"/>
<use href="#p" x="644.5" y="453.5"/>
<use href="#p" x="643.5" y="447.5"/>
<use href="#p" x="644.5" y="448.5"/>
<use href="#p" x="603.5" y="458.5"/>
<use href="#p" x="611.5" y="456.5"/>
<use href="#p" x="615.5" y="455.5"/>
<use href="#p" x="634.5" y="457.5"/>
<use href="#p" x="637.5" y="454.5"/>
<use href="#p" x="640.5" y="455.5"/>
<use href="#p" x="394.5" y="76.5"/>
<use href="#p" x="395.5" y="100.5"/>
<use href="#p" x="526.5" y="69.5"/>
<use href="#p" x="538.5" y="58.5"/>
<use href="#p" x="505.5" y="189.5"/>
<use href="#p" x="539.5" y="189.5"/>
<use href="#p" x="549.5" y="189.5"/>
<use href="#P" x="438.5" y="448.5"/>
<use href="#P" x="438.5" y="450.5"/>
<use href="#P" x="421.5" y="289.5"/>
<use href="#P" x="434.5" y="312.5"/>
<use href="#P" x="420.5" y="351.5"/>
<use href="#P" x="522.5" y="341.5"/>
<use href="#P" x="531.5" y="357.5"/>
<use href="#P" x="575.5" y="369.5"/>
<use href="#P" x="529.5" y="383.5"/>
<use href="#P" x="569.5" y="385.5"/>
<use href="#P" x="537.5" y="415.5"/>
<use href="#P" x="569.5" y="411.5"/>
<use href="#P" x="568.5" y="409.5"/>
<use href="#P" x="588.5" y="416.5"/>
<use href="#P" x="506.5" y="420.5"/>
<use href="#P" x="557.5" y="436.5"/>
<use href="#P" x="556.5" y="434.5"/>
<use href="#P" x="578.5" y="421.5"/>
<use href="#P" x="578.5" y="433.5"/>
<use href="#P" x="607.5" y="424.5"/>
<use href="#P" x="603.5" y="422.5"/>
<use href="#P" x="612.5" y="424.5"/>
<use href="#P" x="511.5" y="446.5"/>
<use href="#P" x="596.5" y="440.5"/>
</g>
<g id="cross">
<use href="#x" x="295.5" y="426.5"/>
<use href="#x" x="280.5" y="437.5"/>
<use href="#x" x="299.5" y="441.5"/>
<use href="#x" x="298.5" y="444.5"/>
<use href="#x" x="311.5" y="435.5"/>
<use href="#x" x="319.5" y="437.5"/>
<use href="#x" x="328.5" y="445.5"/>
<use href="#x" x="335.5" y="442.5"/>
<use href="#x" x="339.5" y="443.5"/>
<use href="#x" x="307.5" y="450.5"/>
<use href="#x" x="313.5" y="446.5"/>
<use href="#x" x="334.5" y="448.5"/>
<use href="#x" x="351.5" y="447.5"/>
<use href="#x" x="356.5" y="448.5"/>
<use href="#x" x="366.5" y="449.5"/>
<use href="#x" x="372.5" y="447.5"/>
<use href="#x" x="377.5" y="451.5"/>
<use href="#x" x="381.5" y="446.5"/>
<use href="#x" x="387.5" y="450.5"/>
<use href="#x" x="391.5" y="450.5"/>
<use href="#x" x="400.5" y="447.5"/>
<use href="#x" x="402.5" y="450.5"/>
<use href="#x" x="414.5" y="449.5"/>
<use href="#x" x="419.5" y="450.5"/>
<use href="#x" x="361.5" y="436.5"/>
<use href="#x" x="369.5" y="436.5"/>
<use href="#x" x="378.5" y="436.5"/>
<use href="#x" x="384.5" y="438.5"/>
<use href="#x" x="394.5" y="438.5"/>
<use href="#x" x="400.5" y="435.5"/>
<use href="#x" x="405.5" y="434.5"/>
<use href="#x" x="410.5" y="436.5"/>
<use href="#x" x="357.5" y="441.5"/>
<use href="#x" x="363.5" y="440.5"/>
<use href="#x" x="416.5" y="441.5"/>
<use href="#x" x="404.5" y="437.5"/>
<use href="#x" x="396.5" y="441.5"/>
<use href="#x" x="409.5" y="440.5"/>
<use href="#x" x="420.5" y="436.5"/>
<use href="#x" x="435.5" y="436.5"/>
<use href="#x" x="422.5" y="440.5"/>
<use href="#x" x="426.5" y="444.5"/>
<use href="#x" x="435.5" y="448.5"/>
<use href="#x" x="427.5" y="445.5"/>
<use href="#x" x="439.5" y="447.5"/>
<use href="#x" x="425.5" y="447.5"/>
<use href="#x" x="433.5" y="448.5"/>
<use href="#x" x="430.5" y="446.5"/>
<use href="#x" x="426.5" y="446.5"/>
<use href="#x" x="428.5" y="445.5"/>
<use href="#x" x="428.5" y="447.5"/>
<use href="#x" x="434.5" y="448.5"/>
<use href="#x" x="432.5" y="447.5"/>
<use href="#x" x="439.5" y="448.5"/>
<use href="#x" x="441.5" y="449.5"/>
<use href="#x" x="439.5" y="446.5"/>
<use href="#x" x="426.5" y="445.5"/>
<use href="#x" x="438.5" y="449.5"/>
<use href="#x" x="434.5" y="449.5"/>
<use href="#x" x="434.5" y="450.5"/>
<use href="#x" x="425.5" y="449.5"/>
<use href="#x" x="422.5" y="262.5"/>
<use href="#x" x="407.5" y="312.5"/>
<use href="#x" x="413.5" y="337.5"/>
<use href="#x" x="406.5" y="345.5"/>
<use href="#x" x="389.5" y="375.5"/>
<use href="#x" x="391.5" y="375.5"/>
<use href="#x" x="437.5" y="378.5"/>
<use href="#x" x="438.5" y="401.5"/>
<use href="#X" x="438.5" y="448.5"/>
<use href="#X" x="438.5" y="450.5"/>
<use href="#X" x="421.5" y="289.5"/>
<use href="#X" x="434.5" y="312.5"/>
<use href="#X" x="420.5" y="351.5"/>
</g>
<g id="dots">
<use href="#o" x="307.5" y="450.5"/>
<use href="#o" x="313.5" y="446.5"/>
<use href="#o" x="334.5" y="448.5"/>
<use href="#o" x="351.5" y="447.5"/>
<use href="#o" x="356.5" y="448.5"/>
<use href="#o" x="366.5" y="449.5"/>
<use href="#o" x="372.5" y="447.5"/>
<use href="#o" x="377.5" y="451.5"/>
<use href="#o" x="381.5" y="446.5"/>
<use href="#o" x="387.5" y="450.5"/>
<use href="#o" x="391.5" y="450.5"/>
<use href="#o" x="400.5" y="447.5"/>
<use href="#o" x="402.5" y="450.5"/>
<use href="#o" x="414.5" y="449.5"/>
<use href="#o" x="419.5" y="450.5"/>
</g>
<path d="M100.5 449.4H720.5" stroke="#0000ff" stroke-width="1.3" stroke-dasharray="8.33 8.33" fill="none"/>
</g>
<rect x="100.5" y="60.5" width="620" height="480" fill="none" stroke="#000" stroke-width="1.35"/>
<path d="M100.5 540.5V535.0M183.5 540.5V535.0M265.5 540.5V535.0M348.5 540.5V535.0M431.5 540.5V535.0M513.5 540.5V535.0M596.5 540.5V535.0M679.5 540.5V535.0M130.5 60.5V66.0M213.5 60.5V66.0M295.5 60.5V66.0M378.5 60.5V66.0M461.5 60.5V66.0M543.5 60.5V66.0M626.5 60.5V66.0M709.5 60.5V66.0M100.5 540.5H106.0M720.5 540.5H715.0M100.5 420.5H106.0M720.5 420.5H715.0M100.5 300.5H106.0M720.5 300.5H715.0M100.5 180.5H106.0M720.5 180.5H715.0M100.5 60.5H106.0M720.5 60.5H715.0" stroke="#000" stroke-width="0.7" fill="none"/>
<text x="84.5" y="559.7" font-size="17.80" text-anchor="start" textLength="32.0" lengthAdjust="spacingAndGlyphs">−20</text>
<text x="167.2" y="559.7" font-size="17.80" text-anchor="start" textLength="32.0" lengthAdjust="spacingAndGlyphs">−18</text>
<text x="249.8" y="559.7" font-size="17.80" text-anchor="start" textLength="32.0" lengthAdjust="spacingAndGlyphs">−16</text>
<text x="332.5" y="559.7" font-size="17.80" text-anchor="start" textLength="32.0" lengthAdjust="spacingAndGlyphs">−14</text>
<text x="415.2" y="559.7" font-size="17.80" text-anchor="start" textLength="32.0" lengthAdjust="spacingAndGlyphs">−12</text>
<text x="497.8" y="559.7" font-size="17.80" text-anchor="start" textLength="32.0" lengthAdjust="spacingAndGlyphs">−10</text>
<text x="586.2" y="559.7" font-size="17.80" text-anchor="start" textLength="20.6" lengthAdjust="spacingAndGlyphs">−8</text>
<text x="668.9" y="559.7" font-size="17.80" text-anchor="start" textLength="20.6" lengthAdjust="spacingAndGlyphs">−6</text>
<text x="119.6" y="50.0" font-size="17.80" text-anchor="start" textLength="19.2" lengthAdjust="spacingAndGlyphs">14</text>
<text x="202.3" y="50.0" font-size="17.80" text-anchor="start" textLength="19.2" lengthAdjust="spacingAndGlyphs">16</text>
<text x="284.9" y="50.0" font-size="17.80" text-anchor="start" textLength="19.2" lengthAdjust="spacingAndGlyphs">18</text>
<text x="367.6" y="50.0" font-size="17.80" text-anchor="start" textLength="19.2" lengthAdjust="spacingAndGlyphs">20</text>
<text x="450.3" y="50.0" font-size="17.80" text-anchor="start" textLength="19.2" lengthAdjust="spacingAndGlyphs">22</text>
<text x="532.9" y="50.0" font-size="17.80" text-anchor="start" textLength="19.2" lengthAdjust="spacingAndGlyphs">24</text>
<text x="615.6" y="50.0" font-size="17.80" text-anchor="start" textLength="19.2" lengthAdjust="spacingAndGlyphs">26</text>
<text x="698.3" y="50.0" font-size="17.80" text-anchor="start" textLength="19.2" lengthAdjust="spacingAndGlyphs">28</text>
<text x="86.2" y="544.7" font-size="17.80" text-anchor="start" textLength="9.0" lengthAdjust="spacingAndGlyphs">0</text>
<text x="86.2" y="424.7" font-size="17.80" text-anchor="start" textLength="9.0" lengthAdjust="spacingAndGlyphs">5</text>
<text x="76.4" y="304.7" font-size="17.80" text-anchor="start" textLength="18.8" lengthAdjust="spacingAndGlyphs">10</text>
<text x="76.4" y="184.7" font-size="17.80" text-anchor="start" textLength="18.8" lengthAdjust="spacingAndGlyphs">15</text>
<text x="76.4" y="64.7" font-size="17.80" text-anchor="start" textLength="18.8" lengthAdjust="spacingAndGlyphs">20</text>
<text x="301.7" y="28.5" font-size="20.60" text-anchor="start" textLength="64.1" lengthAdjust="spacingAndGlyphs">FWHM</text>
<text x="372.3" y="28.5" font-size="20.60" text-anchor="start" textLength="22.2" lengthAdjust="spacingAndGlyphs">vs</text>
<text x="400.1" y="28.5" font-size="20.60" text-anchor="start" textLength="120.4" lengthAdjust="spacingAndGlyphs">magnitudes</text>
<text x="264.2" y="583.7" font-size="17.80" text-anchor="start" textLength="89.8" lengthAdjust="spacingAndGlyphs">magnitude</text>
<text x="359.7" y="583.7" font-size="17.80" text-anchor="start" textLength="102.1" lengthAdjust="spacingAndGlyphs">(bottom:isnt</text>
<text x="468.0" y="583.7" font-size="17.80" text-anchor="start" textLength="6.4" lengthAdjust="spacingAndGlyphs">/</text>
<text x="479.0" y="583.7" font-size="17.80" text-anchor="start" textLength="78.3" lengthAdjust="spacingAndGlyphs">top:calib)</text>
<text transform="translate(64.0 347.60) rotate(-90)" font-size="17.8" textLength="51.40" lengthAdjust="spacingAndGlyphs">FWHM</text>
<text transform="translate(64.0 290.30) rotate(-90)" font-size="17.8" textLength="38.60" lengthAdjust="spacingAndGlyphs">(pix)</text>
<rect x="398.5" y="70.5" width="312" height="122" fill="#fff" stroke="#000" stroke-width="1.35"/>
<use href="#p" x="412.5" y="86.5"/><use href="#p" x="440.5" y="86.5"/>
<use href="#x" x="412.5" y="115.5"/><use href="#x" x="440.5" y="115.5"/>
<use href="#o" x="412.5" y="144.5"/><use href="#o" x="440.5" y="144.5"/>
<path d="M412.4 173.6H440.5" stroke="#0000ff" stroke-width="1.3" stroke-dasharray="8.33 8.33" fill="none"/>
<text x="461.5" y="92.3" font-size="20.60" text-anchor="start" textLength="25.1" lengthAdjust="spacingAndGlyphs">all</text>
<text x="491.6" y="92.3" font-size="20.60" text-anchor="start" textLength="73.5" lengthAdjust="spacingAndGlyphs">sample</text>
<text x="461.6" y="121.4" font-size="20.60" text-anchor="start" textLength="73.0" lengthAdjust="spacingAndGlyphs">sample</text>
<text x="542.1" y="121.4" font-size="20.60" text-anchor="start" textLength="27.4" lengthAdjust="spacingAndGlyphs">for</text>
<text x="574.5" y="121.4" font-size="20.60" text-anchor="start" textLength="59.0" lengthAdjust="spacingAndGlyphs">rough</text>
<text x="640.3" y="121.4" font-size="20.60" text-anchor="start" textLength="63.9" lengthAdjust="spacingAndGlyphs">FWHM</text>
<text x="461.5" y="150.6" font-size="20.60" text-anchor="start" textLength="66.9" lengthAdjust="spacingAndGlyphs">coarse</text>
<text x="535.0" y="150.6" font-size="20.60" text-anchor="start" textLength="77.8" lengthAdjust="spacingAndGlyphs">PSF-like</text>
<text x="619.0" y="150.6" font-size="20.60" text-anchor="start" textLength="73.6" lengthAdjust="spacingAndGlyphs">sample</text>
<text x="462.2" y="179.6" font-size="20.60" text-anchor="start" textLength="91.0" lengthAdjust="spacingAndGlyphs">tentative</text>
<text x="559.0" y="179.6" font-size="20.60" text-anchor="start" textLength="64.1" lengthAdjust="spacingAndGlyphs">FWHM</text>
</svg></body></html>
